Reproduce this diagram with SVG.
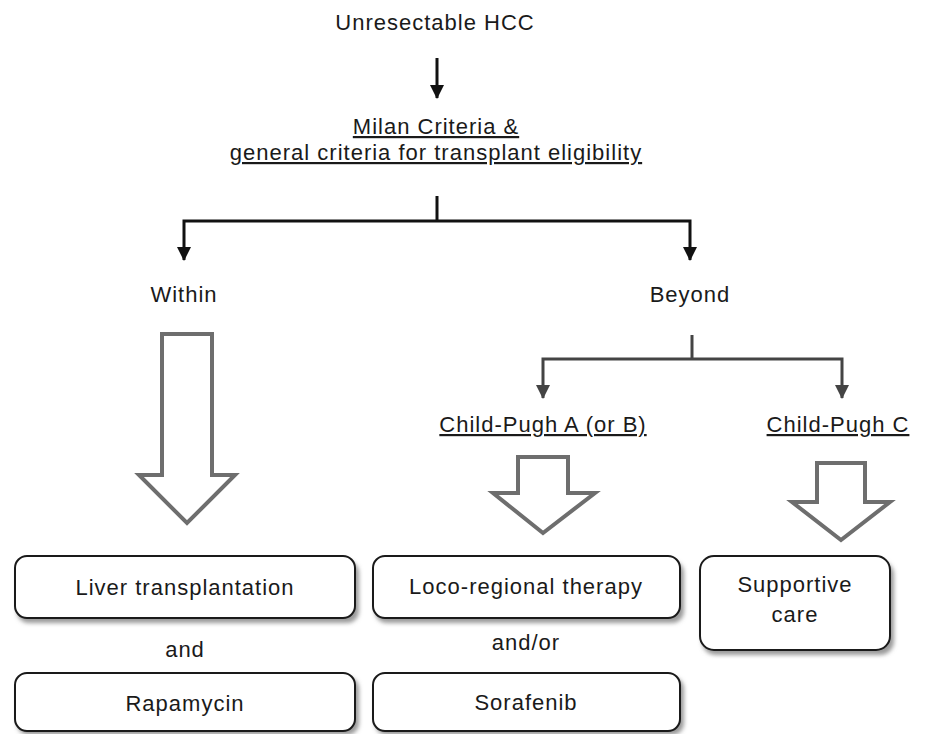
<svg xmlns="http://www.w3.org/2000/svg" width="949" height="734" viewBox="0 0 949 734">
<style>
  text { font-family: "Liberation Sans", Arial, sans-serif; font-size: 22px; fill: #1a1a1a; letter-spacing: 1px; text-anchor: middle; }
  .u { text-decoration: underline; }
  .conn { fill: none; stroke: #111; stroke-width: 3; }
  .conn2 { fill: none; stroke: #444; stroke-width: 3; }
  .block { fill: #fff; stroke: #6e6e6e; stroke-width: 4; stroke-linejoin: miter; }
  .box { fill: #fff; stroke: #1a1a1a; stroke-width: 2; }
  .shadow { fill: #9a9a9a; }
</style>
<defs>
  <marker id="ah" markerUnits="userSpaceOnUse" markerWidth="14" markerHeight="16" refX="13" refY="7" orient="auto">
    <path d="M0,0 L14,7 L0,14 Z" fill="#111"/>
  </marker>
  <marker id="ah2" markerUnits="userSpaceOnUse" markerWidth="14" markerHeight="16" refX="13" refY="7" orient="auto">
    <path d="M0,0 L14,7 L0,14 Z" fill="#444"/>
  </marker>
  <filter id="blur" x="-10%" y="-20%" width="120%" height="150%">
    <feGaussianBlur stdDeviation="2"/>
  </filter>
</defs>

<g id="connectors">
  <line class="conn" x1="437" y1="58" x2="437" y2="98" marker-end="url(#ah)"/>
  <line class="conn" x1="437" y1="196" x2="437" y2="221"/>
  <path class="conn" d="M437,221 H184 V260" marker-end="url(#ah)"/>
  <path class="conn" d="M437,221 H690 V260" marker-end="url(#ah)"/>
  <line class="conn2" x1="692" y1="335" x2="692" y2="359"/>
  <path class="conn2" d="M692,359 H543 V398" marker-end="url(#ah2)"/>
  <path class="conn2" d="M692,359 H842 V398" marker-end="url(#ah2)"/>
  <path id="arrow-within" class="block" d="M162,334 H212 V475 H235 L187,523 L139,475 H162 Z"/>
  <path id="arrow-cpa" class="block" d="M518,457 H568 V493 H595 L543,533 L493,493 H518 Z"/>
  <path id="arrow-cpc" class="block" d="M817,463 H865 V502 H890 L841,540 L792,502 H817 Z"/>
</g>

<g id="node-hcc"><text x="435" y="30">Unresectable HCC</text></g>
<g id="node-milan">
  <text class="u" x="436" y="134">Milan Criteria &amp;</text>
  <text class="u" x="436" y="160">general criteria for transplant eligibility</text>
</g>
<g id="node-within"><text x="184" y="302">Within</text></g>
<g id="node-beyond"><text x="690" y="302">Beyond</text></g>
<g id="node-cpa"><text class="u" x="543" y="432">Child-Pugh A (or B)</text></g>
<g id="node-cpc"><text class="u" x="838" y="432">Child-Pugh C</text></g>

<g id="node-liver">
  <rect class="shadow" x="17" y="561" width="342" height="62" rx="12" filter="url(#blur)"/>
  <rect class="box" x="15" y="556" width="340" height="62" rx="12"/>
  <text x="185" y="595">Liver transplantation</text>
</g>
<g id="node-and"><text x="185" y="657">and</text></g>
<g id="node-rapa">
  <rect class="shadow" x="17" y="677" width="342" height="58" rx="12" filter="url(#blur)"/>
  <rect class="box" x="15" y="673" width="340" height="58" rx="12"/>
  <text x="185" y="711">Rapamycin</text>
</g>
<g id="node-loco">
  <rect class="shadow" x="375" y="561" width="309" height="62" rx="12" filter="url(#blur)"/>
  <rect class="box" x="373" y="556" width="307" height="62" rx="12"/>
  <text x="526" y="594">Loco-regional therapy</text>
</g>
<g id="node-andor"><text x="526" y="650">and/or</text></g>
<g id="node-sora">
  <rect class="shadow" x="375" y="677" width="309" height="58" rx="12" filter="url(#blur)"/>
  <rect class="box" x="373" y="673" width="307" height="58" rx="12"/>
  <text x="526" y="710">Sorafenib</text>
</g>
<g id="node-support">
  <rect class="shadow" x="702" y="561" width="192" height="94" rx="14" filter="url(#blur)"/>
  <rect class="box" x="700" y="556" width="190" height="94" rx="14"/>
  <text x="795" y="592">Supportive</text>
  <text x="795" y="622">care</text>
</g>
</svg>
